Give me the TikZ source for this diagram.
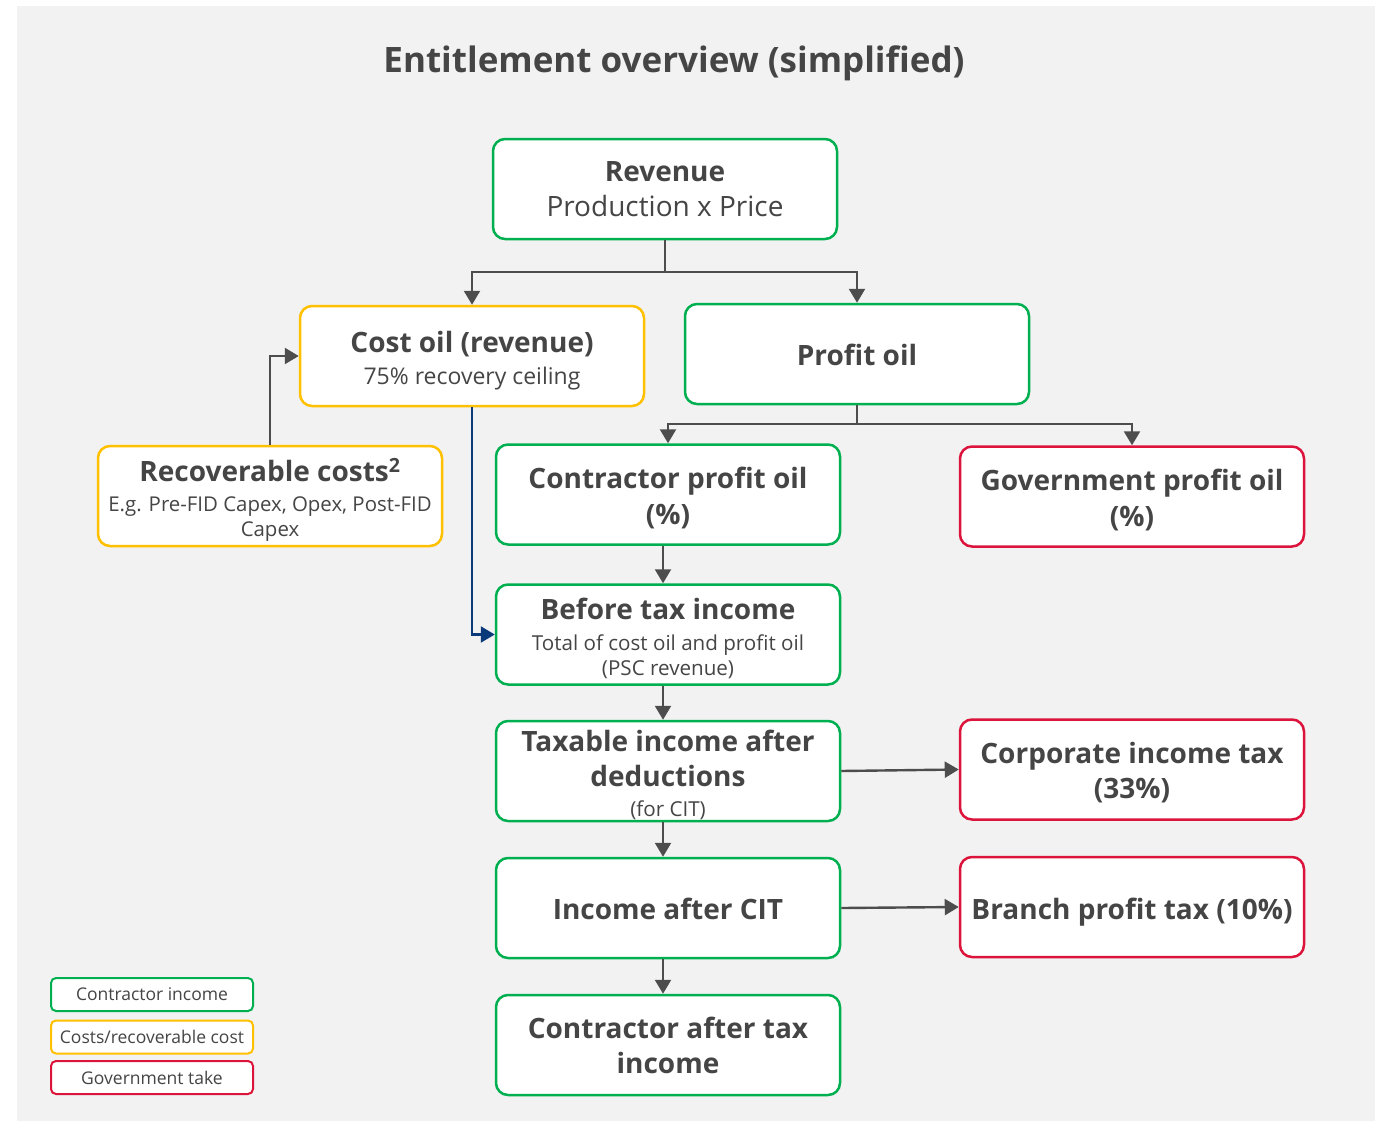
\documentclass[tikz,border=0pt]{standalone}
\usepackage{fontspec}
\setmainfont{Open Sans}
\usetikzlibrary{arrows.meta}
\definecolor{bg}{HTML}{F2F2F2}
\definecolor{txt}{HTML}{454545}
\definecolor{cgreen}{HTML}{00B050}
\definecolor{cyellow}{HTML}{FFC000}
\definecolor{cred}{HTML}{DC143C}
\definecolor{arr}{HTML}{4D4D4D}
\definecolor{navy}{HTML}{0B3A7A}
\newcommand{\bigb}{\fontsize{28}{35}\selectfont\bfseries}
\begin{document}
\begin{tikzpicture}[x=1pt,y=-1pt,
  box/.style={draw, line width=2.5pt, rounded corners=12pt, fill=white,
    minimum width=344pt, minimum height=100pt, inner sep=0pt},
  gbox/.style={box, draw=cgreen},
  ybox/.style={box, draw=cyellow},
  rbox/.style={box, draw=cred},
  tx/.style={inner sep=0pt, align=center, text=txt, font=\fontsize{28}{35}\selectfont},
  leg/.style={draw, line width=2pt, rounded corners=5pt, fill=white,
    minimum width=202pt, minimum height=33pt, inner sep=0pt, text=txt,
    font=\fontsize{17.5}{20}\selectfont},
  conn/.style={draw=arr, line width=2.4pt, -{Triangle[length=14pt,width=16pt]}}
]
\useasboundingbox (0,0) rectangle (1375,1121);
\fill[bg] (17,6) rectangle (1375,1121);

\node[text=txt, font=\fontsize{35}{40}\selectfont\bfseries] (title) at (674,63) {Entitlement overview (simplified)};

% boxes
\node[gbox] (rev) at (665,189) {};
\node[ybox] (cost) at (472,356) {};
\node[gbox] (profit) at (857,354) {};
\node[ybox] (rec) at (270,496) {};
\node[gbox] (cpo) at (668,494.5) {};
\node[rbox] (gpo) at (1132,496.5) {};
\node[gbox] (bti) at (668,634.5) {};
\node[gbox] (tax) at (668,771) {};
\node[rbox] (cit) at (1132,769.5) {};
\node[gbox] (iac) at (668,908) {};
\node[rbox] (bpt) at (1132,907) {};
\node[gbox] (cat) at (668,1045) {};

% texts
\node[tx] (revt) at (665,189.5) {{\bfseries Revenue}\\Production x Price};
\node[tx, font=\fontsize{28}{32}\selectfont] (costt) at (472,360.5) {{\bfseries Cost oil (revenue)}\\{\fontsize{23}{32}\selectfont 75\% recovery ceiling}};
\node[tx] (profitt) at (857,355) {\bfseries Profit oil};
\node[tx, font=\fontsize{20.4}{25}\selectfont] (rect) at (270,499.5) {{\bigb Recoverable costs\textsuperscript{2}}\\[5pt]E.g. Pre-FID Capex, Opex, Post-FID\\Capex};
\node[tx, font=\fontsize{28}{36}\selectfont\bfseries] (cpot) at (668,497.5) {Contractor profit oil\\(\%)};
\node[tx, font=\fontsize{28}{36}\selectfont\bfseries] (gpot) at (1132,499.5) {Government profit oil\\(\%)};
\node[tx, font=\fontsize{20.6}{25}\selectfont] (btit) at (668,638.5) {{\bigb Before tax income}\\[6pt]Total of cost oil and profit oil\\(PSC revenue)};
\node[tx, font=\fontsize{28}{35}\selectfont] (taxt) at (668,774.5) {{\bfseries Taxable income after}\\{\bfseries deductions}\\[-5pt]{\fontsize{20.6}{25}\selectfont (for CIT)}};
\node[tx, font=\fontsize{28}{35}\selectfont\bfseries] (citt) at (1132,773) {Corporate income tax\\(33\%)};
\node[tx, font=\fontsize{28}{35}\selectfont\bfseries] (iact) at (668,909) {Income after CIT};
\node[tx, font=\fontsize{28}{35}\selectfont\bfseries] (bptt) at (1132,912) {Branch profit tax (10\%)};
\node[tx, font=\fontsize{28}{35}\selectfont\bfseries] (catt) at (668,1045.5) {Contractor after tax\\income};

% legend
\node[leg, draw=cgreen] (l1) at (152,994.5) {Contractor income};
\node[leg, draw=cyellow] (l2) at (152,1037) {Costs/recoverable cost};
\node[leg, draw=cred] (l3) at (152,1077.5) {Government take};

% connectors
\coordinate (j1) at (665,272);
\coordinate (j2) at (857,424);
\coordinate (vx) at (663,0);

\draw[conn] (rev.south) -- (j1) -| (cost.north);
\draw[conn] (rev.south) -- (j1) -| (profit.north);
\draw[conn] (profit.south) -- (j2) -| (cpo.north);
\draw[conn] (profit.south) -- (j2) -| (gpo.north);
\draw[conn] (rec.north) |- (cost.west);
\draw[conn, draw=navy] (cost.south) |- (bti.west);
\draw[conn] (cpo.south -| vx) -- (bti.north -| vx);
\draw[conn] (bti.south -| vx) -- (tax.north -| vx);
\draw[conn] (tax.south -| vx) -- (iac.north -| vx);
\draw[conn] (iac.south -| vx) -- (cat.north -| vx);
\draw[conn] (tax.east) -- (cit.west);
\draw[conn] (iac.east) -- (bpt.west);
\end{tikzpicture}
\end{document}
